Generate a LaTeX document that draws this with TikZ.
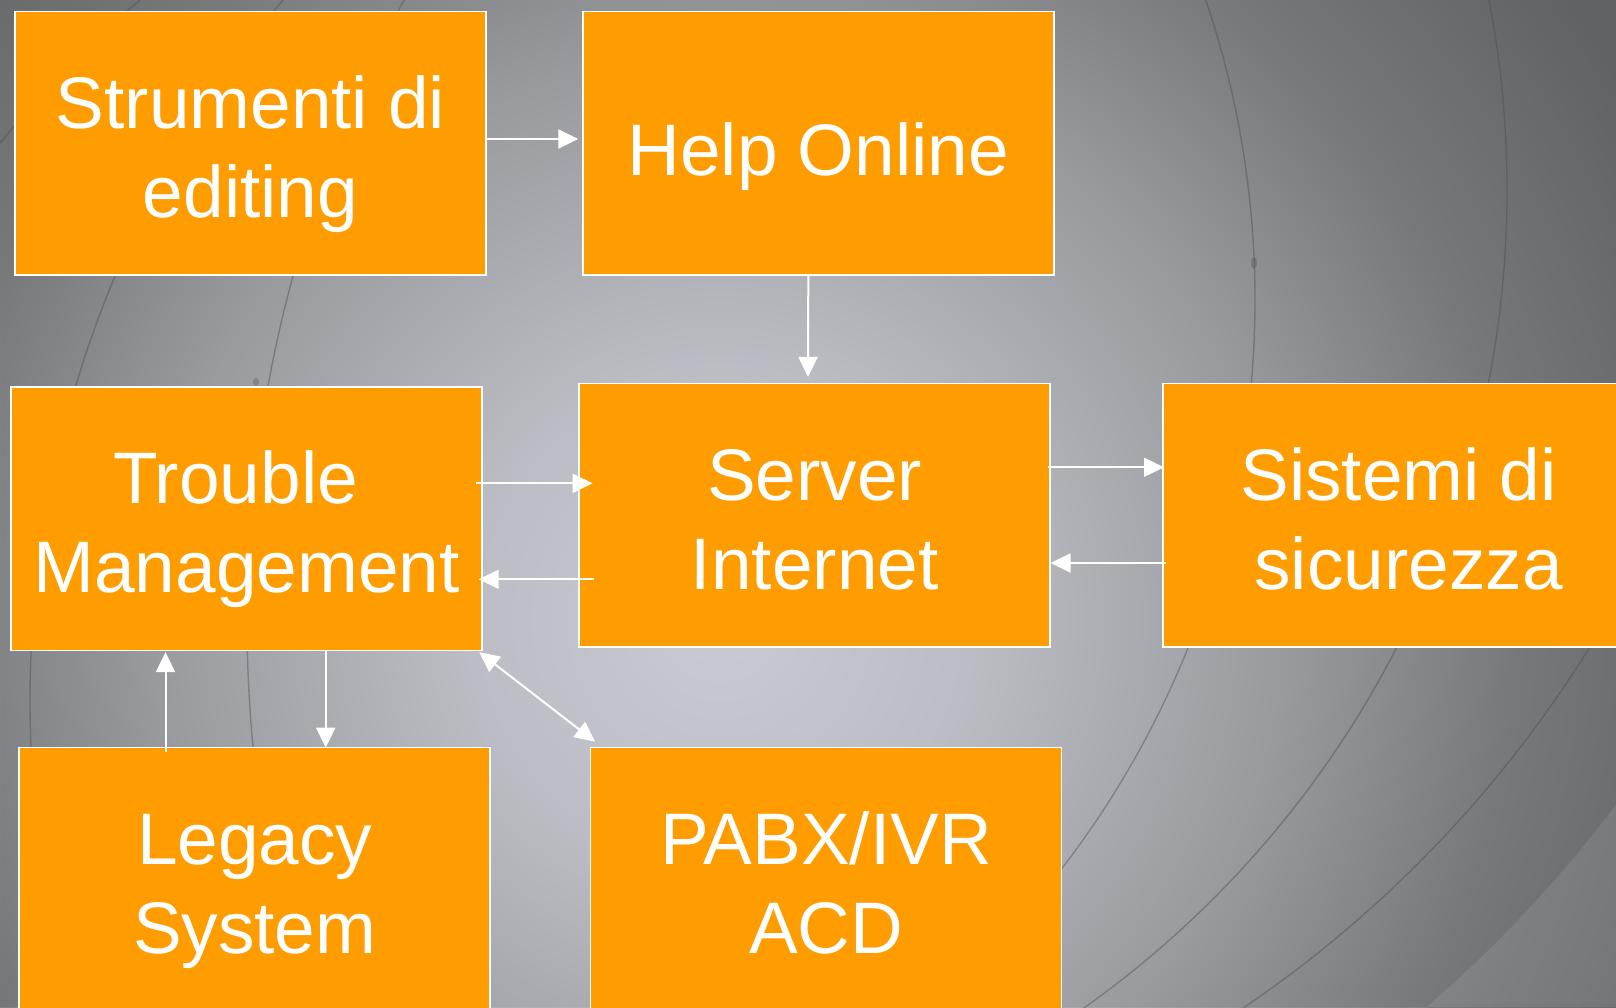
\documentclass[tikz,border=0pt]{standalone}
\usepackage{fontspec}
\setmainfont{Liberation Sans}
\usetikzlibrary{arrows.meta,calc}
\definecolor{boxorange}{RGB}{255,156,0}
\definecolor{bgca}{RGB}{202,203,210}
\definecolor{bgcb}{RGB}{188,189,196}
\definecolor{bgcc}{RGB}{152,154,158}
\definecolor{bgcd}{RGB}{118,120,122}
\definecolor{bgce}{RGB}{96,99,99}
\definecolor{arcc}{RGB}{78,81,84}
\pgfdeclareradialshading{bgshade}{\pgfpoint{0bp}{0bp}}{color(0bp)=(bgca); color(6bp)=(bgcb); color(13.5bp)=(bgcc); color(19bp)=(bgcd); color(25bp)=(bgce); color(50bp)=(bgce)}
\newcommand\twolines[2]{\rule{0pt}{80pt}#1\\#2\rule[-20.5pt]{0pt}{20.5pt}}
\newcommand\oneline[1]{\rule{0pt}{84pt}#1\rule[-20pt]{0pt}{20pt}}
\tikzset{
  box/.style={draw=white, line width=1.5pt, fill=boxorange, minimum width=471pt,
    minimum height=263.5pt, inner sep=0pt, outer sep=0pt, text=white, align=center,
    font=\fontsize{73pt}{89pt}\selectfont},
  conn/.style={draw=white, line width=2pt, -{Triangle[length=20pt,width=19pt]}},
  dconn/.style={draw=white, line width=2pt, {Triangle[length=20pt,width=19pt]}-{Triangle[length=20pt,width=19pt]}},
  bgarc/.style={draw=arcc, line width=1.4pt, opacity=0.45}
}
\begin{document}
\begin{tikzpicture}[x=1pt,y=-1pt]
\useasboundingbox (0,0) rectangle (1616,1007);
% background
\begin{scope}
\clip (0,0) rectangle (1616,1007);
\shade[shading=bgshade] (-330,-430) rectangle (1770,1670);
\fill[white, opacity=0.09, even odd rule] (0,0) rectangle (1616,1007) (574,19) circle[radius=1305pt];
\draw[bgarc] (322,300) circle[radius=933pt];
\draw[bgarc] (505,190) circle[radius=1002pt];
\draw[bgarc] (574,19) circle[radius=1194pt];
\draw[bgarc] (1125,700) circle[radius=1095pt];
\draw[bgarc] (1547,620) circle[radius=1300pt];
\draw[bgarc] (140,0) .. controls (70,60) .. (0,143);
\fill[arcc, opacity=0.35] (1254,263) ellipse[x radius=3pt, y radius=6pt];
\fill[arcc, opacity=0.35] (256,382) ellipse[x radius=3pt, y radius=4pt];
\end{scope}
% boxes
\node[box] (s) at (250.5,143) {\twolines{Strumenti di}{editing}};
\node[box] (h) at (818.3,143) {\oneline{Help Online}};
\node[box] (t) at (246.5,518.7) {\twolines{Trouble\hspace*{22pt}}{Management}};
\node[box] (sv) at (814.7,515) {\twolines{Server}{Internet}};
\node[box] (si) at (1398.5,515) {\twolines{Sistemi di}{\hspace*{20pt}sicurezza}};
\node[box] (l) at (254.7,879.2) {\twolines{Legacy}{System}};
\node[box] (p) at (826.2,879) {\twolines{PABX/IVR}{ACD}};
% connectors
\draw[conn] ($(s.east)+(0,-4)$) -- ($(h.west)+(-4.5,-4)$);
\draw[conn] ($(h.south)+(-10,0)$) -- ($(sv.north)+(-6.7,-6.3)$);
\draw[conn] ($(t.east)+(-6,-35.4)$) -- ($(sv.west)+(13.4,-31.7)$);
\draw[conn] ($(sv.west)+(14.7,64.3)$) -- ($(t.east)+(-3.3,60.6)$);
\draw[conn] ($(sv.east)+(-2,-47.7)$) -- ($(si.west)+(1,-47.7)$);
\draw[conn] ($(si.west)+(3,48)$) -- ($(sv.east)+(0.3,48)$);
\draw[conn] ($(l.north)+(-89.2,4.2)$) -- ($(t.south)+(-81,1.7)$);
\draw[conn] ($(t.south)+(79.2,0)$) -- ($(l.north)+(71,0.2)$);
\draw[dconn] ($(t.south east)+(-2.7,1.7)$) -- ($(p.north west)+(4.3,-5.6)$);
\end{tikzpicture}
\end{document}
